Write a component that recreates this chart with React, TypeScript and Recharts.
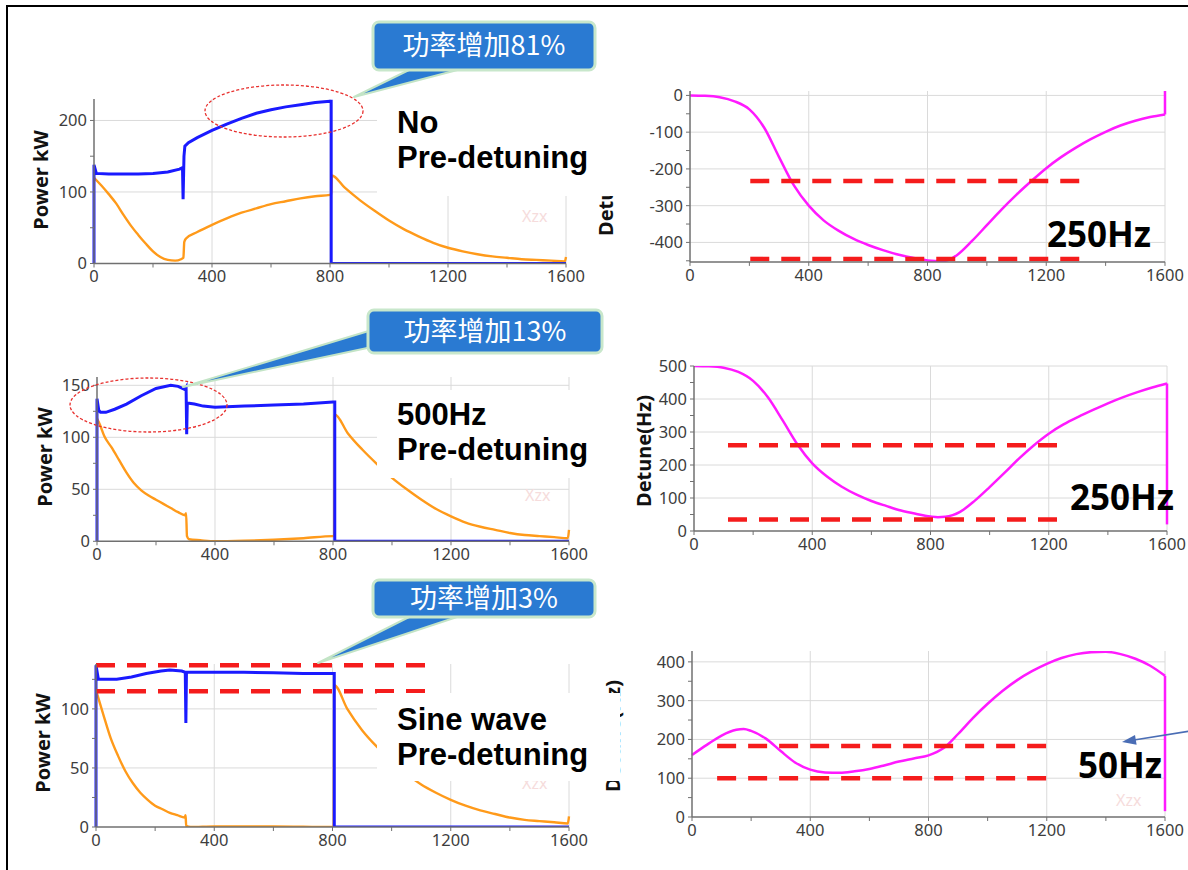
import React from 'react';
import { LineChart, Line, XAxis, YAxis, CartesianGrid, ReferenceLine } from 'recharts';

// shared time axis (µs)
const X_TICKS = [0, 200, 400, 600, 800, 1000, 1200, 1400, 1600];
const X_LABELED = [0, 400, 800, 1200, 1600];

// --- no pre-detuning ---
const noPreForward = [
  { t: 0, v: 0 }, { t: 0, v: 138 }, { t: 8, v: 126 }, { t: 50, v: 125 }, { t: 100, v: 125 },
  { t: 150, v: 125 }, { t: 200, v: 126 }, { t: 250, v: 128 }, { t: 290, v: 132 }, { t: 300, v: 134 },
  { t: 302, v: 90 }, { t: 305, v: 150 }, { t: 308, v: 164 }, { t: 320, v: 169 }, { t: 350, v: 176 },
  { t: 400, v: 186 }, { t: 450, v: 195 }, { t: 500, v: 203 }, { t: 550, v: 210 }, { t: 600, v: 215 },
  { t: 650, v: 219 }, { t: 700, v: 222 }, { t: 750, v: 225 }, { t: 800, v: 227 }, { t: 804, v: 227 },
  { t: 804, v: 0 }, { t: 1600, v: 0 },
];
const noPreReflected = [
  { t: 0, v: 120 }, { t: 25, v: 109 }, { t: 50, v: 97 }, { t: 75, v: 84 }, { t: 100, v: 68 },
  { t: 125, v: 53 }, { t: 150, v: 40 }, { t: 175, v: 28 }, { t: 200, v: 17 }, { t: 225, v: 9 },
  { t: 250, v: 5 }, { t: 275, v: 4 }, { t: 295, v: 6 }, { t: 303, v: 8 }, { t: 306, v: 30 },
  { t: 312, v: 35 }, { t: 350, v: 44 }, { t: 400, v: 54 }, { t: 450, v: 63 }, { t: 500, v: 71 },
  { t: 550, v: 77 }, { t: 600, v: 83 }, { t: 650, v: 87 }, { t: 700, v: 91 }, { t: 750, v: 94 },
  { t: 800, v: 96 }, { t: 804, v: 97 }, { t: 806, v: 123 }, { t: 850, v: 106 }, { t: 900, v: 89 },
  { t: 950, v: 74 }, { t: 1000, v: 60 }, { t: 1050, v: 48 }, { t: 1100, v: 38 }, { t: 1150, v: 29 },
  { t: 1200, v: 22 }, { t: 1250, v: 17 }, { t: 1300, v: 13 }, { t: 1350, v: 10 }, { t: 1400, v: 8 },
  { t: 1450, v: 6 }, { t: 1500, v: 5 }, { t: 1550, v: 4 }, { t: 1596, v: 3 }, { t: 1600, v: 9 },
];
const noPreDetune = [
  { t: 0, v: 0 }, { t: 50, v: -1 }, { t: 100, v: -5 }, { t: 150, v: -16 }, { t: 200, v: -38 },
  { t: 250, v: -88 }, { t: 300, v: -168 }, { t: 350, v: -245 }, { t: 400, v: -300 }, { t: 450, v: -340 },
  { t: 500, v: -368 }, { t: 550, v: -390 }, { t: 600, v: -407 }, { t: 650, v: -421 }, { t: 700, v: -433 },
  { t: 750, v: -442 }, { t: 800, v: -449 }, { t: 850, v: -451 }, { t: 875, v: -446 }, { t: 900, v: -434 },
  { t: 950, v: -396 }, { t: 1000, v: -353 }, { t: 1050, v: -310 }, { t: 1100, v: -270 }, { t: 1150, v: -233 },
  { t: 1200, v: -198 }, { t: 1250, v: -168 }, { t: 1300, v: -142 }, { t: 1350, v: -119 }, { t: 1400, v: -99 },
  { t: 1450, v: -82 }, { t: 1500, v: -69 }, { t: 1550, v: -59 }, { t: 1600, v: -52 },
];
const noPreDetuneEnd = [{ t: 1600, v: -52 }, { t: 1600, v: 12 }];
const noPreBand = [-233, -445];
const noPreBandSpan = [203, 1333];

// --- 500 Hz pre-detuning ---
const pre500Forward = [
  { t: 0, v: 0 }, { t: 0, v: 137 }, { t: 6, v: 126 }, { t: 12, v: 124 }, { t: 30, v: 124 },
  { t: 60, v: 127 }, { t: 100, v: 132 }, { t: 150, v: 140 }, { t: 200, v: 147 }, { t: 250, v: 150 },
  { t: 275, v: 149 }, { t: 298, v: 146 }, { t: 302, v: 148 }, { t: 304, v: 103 }, { t: 306, v: 133 },
  { t: 330, v: 132 }, { t: 360, v: 130 }, { t: 400, v: 129 }, { t: 500, v: 130 }, { t: 600, v: 131 },
  { t: 700, v: 132 }, { t: 800, v: 134 }, { t: 806, v: 134 }, { t: 806, v: 0 }, { t: 1600, v: 0 },
];
const pre500Reflected = [
  { t: 0, v: 118 }, { t: 10, v: 112 }, { t: 25, v: 101 }, { t: 50, v: 90 }, { t: 75, v: 78 },
  { t: 100, v: 66 }, { t: 125, v: 56 }, { t: 150, v: 49 }, { t: 175, v: 44 }, { t: 200, v: 40 },
  { t: 225, v: 36 }, { t: 250, v: 32 }, { t: 275, v: 28 }, { t: 298, v: 25 }, { t: 302, v: 27 },
  { t: 305, v: 5 }, { t: 312, v: 2 }, { t: 350, v: 1 }, { t: 400, v: 0 }, { t: 500, v: 0.5 },
  { t: 600, v: 1.5 }, { t: 700, v: 3 }, { t: 800, v: 5 }, { t: 804, v: 5 }, { t: 806, v: 122 },
  { t: 850, v: 104 }, { t: 900, v: 88 }, { t: 950, v: 74 }, { t: 1000, v: 61 }, { t: 1050, v: 50 },
  { t: 1100, v: 40 }, { t: 1150, v: 31 }, { t: 1200, v: 24 }, { t: 1250, v: 18 }, { t: 1300, v: 14 },
  { t: 1350, v: 11 }, { t: 1400, v: 8 }, { t: 1450, v: 6 }, { t: 1500, v: 5 }, { t: 1550, v: 4 },
  { t: 1596, v: 3 }, { t: 1600, v: 11 },
];
const pre500Detune = [
  { t: 0, v: 500 }, { t: 50, v: 499 }, { t: 100, v: 495 }, { t: 150, v: 482 }, { t: 200, v: 455 },
  { t: 250, v: 405 }, { t: 300, v: 335 }, { t: 350, v: 262 }, { t: 400, v: 205 }, { t: 450, v: 165 },
  { t: 500, v: 134 }, { t: 550, v: 110 }, { t: 600, v: 91 }, { t: 650, v: 76 }, { t: 700, v: 62 },
  { t: 750, v: 52 }, { t: 800, v: 44 }, { t: 825, v: 42 }, { t: 850, v: 43 }, { t: 875, v: 48 },
  { t: 900, v: 58 }, { t: 950, v: 92 }, { t: 1000, v: 133 }, { t: 1050, v: 176 }, { t: 1100, v: 220 },
  { t: 1150, v: 260 }, { t: 1200, v: 295 }, { t: 1250, v: 323 }, { t: 1300, v: 346 }, { t: 1350, v: 367 },
  { t: 1400, v: 387 }, { t: 1450, v: 405 }, { t: 1500, v: 421 }, { t: 1550, v: 435 }, { t: 1600, v: 447 },
];
const pre500DetuneEnd = [{ t: 1600, v: 447 }, { t: 1600, v: 20 }];
const pre500Band = [260, 35];
const pre500BandSpan = [115, 1240];

// --- sine-wave pre-detuning ---
const sineForward = [
  { t: 0, v: 0 }, { t: 0, v: 137 }, { t: 8, v: 125 }, { t: 70, v: 125 }, { t: 120, v: 127 },
  { t: 170, v: 130 }, { t: 220, v: 132 }, { t: 250, v: 133 }, { t: 290, v: 132 }, { t: 302, v: 131 },
  { t: 304, v: 88 }, { t: 306, v: 131 }, { t: 400, v: 131 }, { t: 500, v: 131 }, { t: 600, v: 130.5 },
  { t: 700, v: 130 }, { t: 800, v: 130 }, { t: 806, v: 130 }, { t: 806, v: 0 }, { t: 1600, v: 0 },
];
const sineReflected = [
  { t: 0, v: 116 }, { t: 25, v: 95 }, { t: 50, v: 75 }, { t: 75, v: 60 }, { t: 100, v: 47 },
  { t: 125, v: 37 }, { t: 150, v: 29 }, { t: 175, v: 23 }, { t: 200, v: 18 }, { t: 225, v: 15 },
  { t: 250, v: 12 }, { t: 275, v: 10 }, { t: 300, v: 8 }, { t: 303, v: 10 }, { t: 305, v: 1 },
  { t: 320, v: 0 }, { t: 400, v: 0.5 }, { t: 600, v: 0.5 }, { t: 800, v: 0 }, { t: 804, v: 0 },
  { t: 806, v: 120 }, { t: 850, v: 100 }, { t: 900, v: 82 }, { t: 950, v: 68 }, { t: 1000, v: 56 },
  { t: 1050, v: 45 }, { t: 1100, v: 36 }, { t: 1150, v: 29 }, { t: 1200, v: 23 }, { t: 1250, v: 18 },
  { t: 1300, v: 14 }, { t: 1350, v: 11 }, { t: 1400, v: 8 }, { t: 1450, v: 6 }, { t: 1500, v: 5 },
  { t: 1550, v: 4 }, { t: 1596, v: 3 }, { t: 1600, v: 9 },
];
const sineDetune = [
  { t: 0, v: 160 }, { t: 50, v: 186 }, { t: 100, v: 210 }, { t: 150, v: 225 }, { t: 175, v: 227 },
  { t: 200, v: 222 }, { t: 250, v: 202 }, { t: 300, v: 170 }, { t: 350, v: 140 }, { t: 400, v: 122 },
  { t: 450, v: 115 }, { t: 500, v: 114 }, { t: 550, v: 118 }, { t: 600, v: 124 }, { t: 650, v: 133 },
  { t: 700, v: 143 }, { t: 750, v: 151 }, { t: 800, v: 159 }, { t: 850, v: 177 }, { t: 900, v: 214 },
  { t: 950, v: 255 }, { t: 1000, v: 292 }, { t: 1050, v: 325 }, { t: 1100, v: 353 }, { t: 1150, v: 376 },
  { t: 1200, v: 395 }, { t: 1250, v: 410 }, { t: 1300, v: 420 }, { t: 1350, v: 425 }, { t: 1400, v: 426 },
  { t: 1450, v: 420 }, { t: 1500, v: 408 }, { t: 1550, v: 390 }, { t: 1600, v: 364 },
];
const sineDetuneEnd = [{ t: 1600, v: 364 }, { t: 1600, v: 15 }];
const sineBand = [183, 100];
const sineBandSpan = [85, 1210];
const sineLimit = [137, 115];
const sineLimitSpan = [0, 1120];

const BLUE = '#1a1aff';
const ORANGE = '#ff9a1a';
const MAGENTA = '#ff1aff';
const RED = '#f51c1c';
const FONT = '"Noto Sans", "Open Sans", sans-serif';
const NOTE_FONT = '"Liberation Sans", Arial, sans-serif';

const PAD_L = 70;
const PAD_T = 12;
const PAD_R = 30;
const PAD_B = 32;

type Box = { l: number; t: number; r: number; b: number };

function Panel(props: {
  box: Box;
  yDomain: [number, number];
  yTicks: number[];
  yLabeled: number[];
  gridY: number[];
  children: React.ReactNode;
}) {
  const { box, yDomain, yTicks, yLabeled, gridY, children } = props;
  const width = box.r - box.l + PAD_L + PAD_R;
  const height = box.b - box.t + PAD_T + PAD_B;
  const tickStyle = { fill: '#3d3d3d', fontSize: 16.5, fontFamily: FONT };
  return (
    <div style={{ position: 'absolute', left: box.l - PAD_L, top: box.t - PAD_T }}>
      <LineChart width={width} height={height} margin={{ top: PAD_T, right: PAD_R, bottom: 0, left: 0 }}>
        <CartesianGrid stroke="#dadada" horizontalValues={gridY} verticalValues={[400, 800, 1200, 1600]} />
        <XAxis
          type="number"
          dataKey="t"
          domain={[0, 1600]}
          ticks={X_TICKS}
          interval={0}
          height={PAD_B}
          tickFormatter={(v: number) => (X_LABELED.includes(v) ? String(v) : '')}
          axisLine={{ stroke: '#707070', strokeWidth: 1.5 }}
          tickLine={{ stroke: '#707070' }}
          tickSize={4}
          tickMargin={3}
          tick={tickStyle}
        />
        <YAxis
          type="number"
          dataKey="v"
          domain={yDomain}
          allowDataOverflow
          ticks={yTicks}
          interval={0}
          width={PAD_L}
          tickFormatter={(v: number) => (yLabeled.includes(v) ? String(v) : '')}
          axisLine={{ stroke: '#707070', strokeWidth: 1.5 }}
          tickLine={{ stroke: '#707070' }}
          tickSize={4}
          tickMargin={3}
          tick={tickStyle}
        />
        {children}
      </LineChart>
    </div>
  );
}

function band(values: number[], span: number[], key: string) {
  return values.map((y, i) => (
    <ReferenceLine
      key={`${key}-${i}`}
      segment={[{ x: span[0], y }, { x: span[1], y }]}
      stroke={RED}
      strokeWidth={4.5}
      strokeDasharray="19 12"
      ifOverflow="visible"
    />
  ));
}

function Rotated({ x, y, text }: { x: number; y: number; text: string }) {
  return (
    <div
      style={{
        position: 'absolute',
        left: x,
        top: y,
        transform: 'translate(-50%, -50%) rotate(-90deg)',
        whiteSpace: 'nowrap',
        fontFamily: FONT,
        fontWeight: 700,
        fontSize: 20,
        color: '#111',
      }}
    >
      {text}
    </div>
  );
}

function Note({ l, t, w, h, pad, lines }: { l: number; t: number; w: number; h: number; pad: number; lines: string[] }) {
  return (
    <div
      style={{
        position: 'absolute',
        left: l,
        top: t,
        width: w,
        height: h,
        boxSizing: 'border-box',
        background: '#fff',
        paddingLeft: 20,
        paddingTop: pad,
        fontFamily: NOTE_FONT,
        fontWeight: 700,
        fontSize: 31,
        lineHeight: '35px',
        color: '#000',
        whiteSpace: 'nowrap',
      }}
    >
      {lines.map((s) => (
        <div key={s}>{s}</div>
      ))}
    </div>
  );
}

function Tag({ x, y, text, size = 35 }: { x: number; y: number; text: string; size?: number }) {
  return (
    <div
      style={{
        position: 'absolute',
        left: x,
        top: y,
        fontFamily: FONT,
        fontWeight: 700,
        fontSize: size,
        lineHeight: '40px',
        color: '#000',
        whiteSpace: 'nowrap',
      }}
    >
      {text}
    </div>
  );
}

function Mark({ x, y }: { x: number; y: number }) {
  return (
    <div style={{ position: 'absolute', left: x, top: y, fontFamily: FONT, fontSize: 16, color: '#f6dcdc' }}>Xzx</div>
  );
}

const series = (data: { t: number; v: number }[], color: string, w: number, smooth = false) => (
  <Line
    data={data}
    dataKey="v"
    type={smooth ? 'monotone' : 'linear'}
    stroke={color}
    strokeWidth={w}
    dot={false}
    activeDot={false}
    isAnimationActive={false}
  />
);

function Callout({ x, y, w, h, tail, text }: { x: number; y: number; w: number; h: number; tail: string; text: string }) {
  return (
    <g>
      <polygon points={tail} fill="#2a7ad2" stroke="#c3e4c6" strokeWidth={2} strokeLinejoin="round" />
      <rect x={x} y={y} width={w} height={h} rx={6} fill="#2a7ad2" stroke="#c8e7cb" strokeWidth={3} />
      <text
        x={x + w / 2}
        y={y + h / 2 + 9}
        textAnchor="middle"
        fill="#fff"
        fontSize={27}
        fontFamily='"Noto Sans CJK SC", sans-serif'
      >
        {text}
      </text>
    </g>
  );
}

export default function App() {
  return (
    <div
      style={{
        position: 'absolute',
        left: 0,
        top: 0,
        width: 1188,
        height: 870,
        overflow: 'hidden',
        background: '#fff',
        fontFamily: FONT,
      }}
    >
      <div style={{ position: 'absolute', left: 6, top: 5, width: 2, height: 870, background: '#000' }} />
      <div style={{ position: 'absolute', left: 6, top: 5, width: 1188, height: 2, background: '#000' }} />

      <Panel box={{ l: 94, t: 98.5, r: 566, b: 263 }} yDomain={[0, 230]} yTicks={[0, 50, 100, 150, 200]} yLabeled={[0, 100, 200]} gridY={[100, 200]}>
        {series(noPreReflected, ORANGE, 2.4, true)}
        {series(noPreForward, BLUE, 3)}
      </Panel>
      <Panel
        box={{ l: 690, t: 90.6, r: 1165, b: 261.5 }}
        yDomain={[-453, 12]}
        yTicks={[-450, -400, -350, -300, -250, -200, -150, -100, -50, 0]}
        yLabeled={[-400, -300, -200, -100, 0]}
        gridY={[-400, -300, -200, -100, 0]}
      >
        {series(noPreDetune, MAGENTA, 2.5, true)}
        {series(noPreDetuneEnd, MAGENTA, 2.5)}
        {band(noPreBand, noPreBandSpan, 'np')}
      </Panel>

      <Panel box={{ l: 97, t: 376.7, r: 569, b: 541 }} yDomain={[0, 158]} yTicks={[0, 25, 50, 75, 100, 125, 150]} yLabeled={[0, 50, 100, 150]} gridY={[50, 100, 150]}>
        {series(pre500Reflected, ORANGE, 2.4, true)}
        {series(pre500Forward, BLUE, 3)}
      </Panel>
      <Panel
        box={{ l: 694, t: 366, r: 1167, b: 531 }}
        yDomain={[0, 500]}
        yTicks={[0, 50, 100, 150, 200, 250, 300, 350, 400, 450, 500]}
        yLabeled={[0, 100, 200, 300, 400, 500]}
        gridY={[100, 200, 300, 400, 500]}
      >
        {series(pre500Detune, MAGENTA, 2.5, true)}
        {series(pre500DetuneEnd, MAGENTA, 2.5)}
        {band(pre500Band, pre500BandSpan, 'p5')}
      </Panel>

      <Panel box={{ l: 96, t: 664, r: 569, b: 827 }} yDomain={[0, 138]} yTicks={[0, 25, 50, 75, 100, 125]} yLabeled={[0, 50, 100]} gridY={[50, 100]}>
        {series(sineReflected, ORANGE, 2.4, true)}
        {series(sineForward, BLUE, 3)}
        {band(sineLimit, sineLimitSpan, 'sl')}
      </Panel>
      <Panel
        box={{ l: 692, t: 651, r: 1165, b: 817 }}
        yDomain={[0, 428]}
        yTicks={[0, 50, 100, 150, 200, 250, 300, 350, 400]}
        yLabeled={[0, 100, 200, 300, 400]}
        gridY={[100, 200, 300, 400]}
      >
        {series(sineDetune, MAGENTA, 2.5, true)}
        {series(sineDetuneEnd, MAGENTA, 2.5)}
        {band(sineBand, sineBandSpan, 'sb')}
      </Panel>

      <Mark x={522} y={205} />
      <Mark x={525} y={484} />
      <Mark x={522} y={772} />
      <Mark x={1116} y={789} />

      <Rotated x={40} y={180} text="Power kW" />
      <Rotated x={44} y={457} text="Power kW" />
      <Rotated x={42} y={743} text="Power kW" />
      <Rotated x={605} y={180} text="Detune(Hz)" />
      <Rotated x={643} y={451} text="Detune(Hz)" />
      <Rotated x={612} y={736} text="Detune(Hz)" />

      <Note l={377} t={96} w={243} h={100} pad={9} lines={['No', 'Pre-detuning']} />
      <Note l={377} t={390} w={250} h={88} pad={7} lines={['500Hz', 'Pre-detuning']} />
      <Note l={377} t={693} w={243} h={88} pad={9} lines={['Sine wave', 'Pre-detuning']} />

      <Tag x={1047} y={214} text="250Hz" />
      <Tag x={1070} y={477} text="250Hz" />
      <Tag x={1078} y={745} text="50Hz" />

      <svg width={1188} height={870} style={{ position: 'absolute', left: 0, top: 0, pointerEvents: 'none' }}>
        <ellipse cx={284} cy={111} rx={79} ry={26} fill="none" stroke="#e8312f" strokeWidth={1.3} strokeDasharray="3 2" />
        <ellipse cx={148.5} cy={405} rx={78.5} ry={27} fill="none" stroke="#e8312f" strokeWidth={1.3} strokeDasharray="3 2" />
        <Callout x={373} y={22} w={222} h={48} tail="413,68 465,68 354,97" text="功率增加81%" />
        <Callout x={368} y={310} w={234} h={43} tail="372,330 372,347 183,387" text="功率增加13%" />
        <Callout x={373} y={580} w={222} h={37} tail="413,615 463,615 318,663" text="功率增加3%" />
        <line x1={1190} y1={731} x2={1134} y2={740} stroke="#4a6db5" strokeWidth={1.6} />
        <polygon points="1122,742 1136.6,744.7 1135,734.9" fill="#4a6db5" />
      </svg>
    </div>
  );
}
